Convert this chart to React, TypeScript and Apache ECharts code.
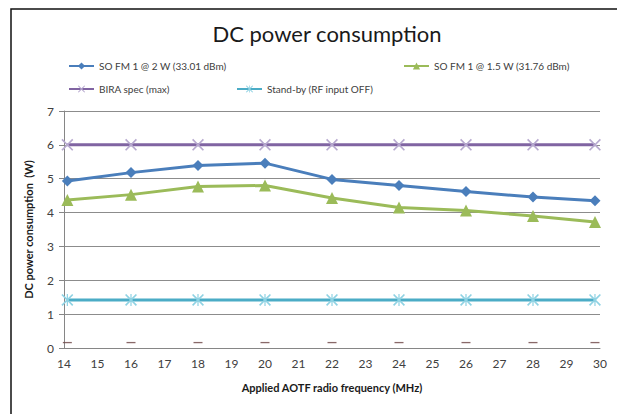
import React, { useEffect, useRef } from "react";
import * as echarts from "echarts";

const freqs = [14.1, 16, 18, 20, 22, 24, 26, 28, 29.85];
const fm2W = [4.93, 5.18, 5.39, 5.46, 4.98, 4.8, 4.62, 4.46, 4.35];
const fm15W = [4.37, 4.53, 4.77, 4.8, 4.43, 4.15, 4.06, 3.9, 3.72];
const biraSpec = [6, 6, 6, 6, 6, 6, 6, 6, 6];
const standBy = [1.42, 1.42, 1.42, 1.42, 1.42, 1.42, 1.42, 1.42, 1.42];
const offLevel = [0.16, 0.16, 0.16, 0.16, 0.16, 0.16, 0.16, 0.16, 0.16];

const names = [
  "SO FM 1 @ 2 W (33.01 dBm)",
  "SO FM 1 @ 1.5 W (31.76 dBm)",
  "BIRA spec (max)",
  "Stand-by (RF input OFF)",
];

const FONT = "Lato";

const pair = (ys: number[]) => freqs.map((x, i) => [x, ys[i]]);

export default function App() {
  const ref = useRef<HTMLDivElement>(null);
  useEffect(() => {
    if (!ref.current) return;
    const chart = echarts.init(ref.current, undefined, { renderer: "svg" });
    const legendBase = {
      orient: "horizontal",
      itemWidth: 25,
      itemHeight: 9,
      padding: 0,
      textStyle: { fontSize: 10, color: "#404040", fontFamily: FONT },
    };
    const xPoly = "M0,1L1,0L5,4L9,0L10,1L6,5L10,9L9,10L5,6L1,10L0,9L4,5Z";
    const xSym = "path://" + xPoly;
    const starSym = "path://" + xPoly + "M4.5,0L5.5,0L5.5,10L4.5,10Z";
    chart.setOption({
      animation: false,
      backgroundColor: "#ffffff",
      title: {
        text: "DC power consumption",
        left: 322,
        top: 17,
        textAlign: "center",
        textStyle: { fontSize: 22, fontWeight: "normal", color: "#1a1a1a", fontFamily: FONT },
      },
      legend: [
        { ...legendBase, data: [names[0]], left: 68, top: 61 },
        { ...legendBase, data: [names[1]], left: 403, top: 61 },
        { ...legendBase, data: [names[2]], left: 68, top: 84 },
        { ...legendBase, data: [names[3]], left: 236, top: 84 },
      ],
      graphic: [
        {
          type: "rect",
          shape: { x: 11, y: 9, width: 700, height: 500 },
          style: { fill: "none", stroke: "#111", lineWidth: 1.5 },
          silent: true,
        },
      ],
      grid: { left: 64, right: 17, top: 111, bottom: 66, outerBoundsMode: "none" },
      xAxis: {
        type: "value",
        min: 14,
        max: 30,
        interval: 1,
        name: "Applied AOTF radio frequency (MHz)",
        nameLocation: "middle",
        nameGap: 34,
        nameTextStyle: { fontSize: 11, fontWeight: "bold", color: "#1a1a1a", fontFamily: FONT },
        axisLine: { lineStyle: { color: "#868686" } },
        axisTick: { show: false },
        splitLine: { show: false },
        axisLabel: { fontSize: 12, color: "#404040", fontFamily: FONT, margin: 9 },
      },
      yAxis: {
        type: "value",
        min: 0,
        max: 7,
        interval: 1,
        name: "DC power consumption  (W)",
        nameLocation: "middle",
        nameRotate: 90,
        nameGap: 30,
        nameTextStyle: { fontSize: 11, fontWeight: "bold", color: "#1a1a1a", fontFamily: FONT },
        axisLine: { show: true, lineStyle: { color: "#868686" } },
        axisTick: { show: true, length: 5, lineStyle: { color: "#868686" } },
        splitLine: { lineStyle: { color: "#8c8c8c" } },
        axisLabel: { fontSize: 12, color: "#404040", fontFamily: FONT, margin: 10 },
      },
      series: [
        {
          name: names[0],
          type: "line",
          data: pair(fm2W),
          symbol: "diamond",
          symbolSize: 11,
          lineStyle: { color: "#4a7ebb", width: 3 },
          itemStyle: { color: "#4a7ebb" },
        },
        {
          name: names[1],
          type: "line",
          data: pair(fm15W),
          symbol: "triangle",
          symbolSize: 12,
          lineStyle: { color: "#9bbb59", width: 3 },
          itemStyle: { color: "#9bbb59" },
        },
        {
          name: names[2],
          type: "line",
          data: pair(biraSpec),
          symbol: xSym,
          symbolSize: 12,
          lineStyle: { color: "#8064a2", width: 3 },
          itemStyle: { color: "#b7a9cf" },
          z: 3,
        },
        {
          name: names[3],
          type: "line",
          data: pair(standBy),
          symbol: starSym,
          symbolSize: 12,
          lineStyle: { color: "#4bacc6", width: 3 },
          itemStyle: { color: "#8fd2e3" },
          z: 3,
        },
        {
          name: "off",
          type: "scatter",
          data: pair(offLevel),
          symbol: "rect",
          symbolSize: [9, 1.3],
          itemStyle: { color: "#6b4444" },
        },
      ],
    });
    return () => chart.dispose();
  }, []);
  return (
    <div
      ref={ref}
      style={{ position: "fixed", left: 0, top: 0, width: 617, height: 414, background: "#fff" }}
    />
  );
}
